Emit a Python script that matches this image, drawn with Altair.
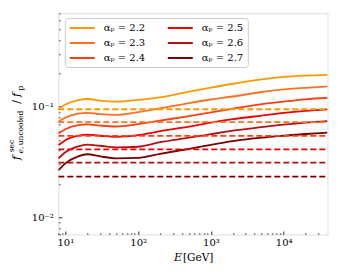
import altair as alt
import pandas as pd

# ---------------- data ----------------
alphas = ["2.2", "2.3", "2.4", "2.5", "2.6", "2.7"]
colors = ["#ff9900", "#ff7020", "#ff4010", "#ee0000", "#b81010", "#780000"]

energy = [8, 10, 15, 20, 30, 50, 100, 200, 500, 1000, 2000, 5000, 10000, 20000, 40000]
f_22 = [0.0947, 0.1047, 0.115, 0.1175, 0.1138, 0.1115, 0.1155, 0.1218, 0.137, 0.149, 0.1615, 0.177, 0.186, 0.191, 0.194]
f_23 = [0.0731, 0.0798, 0.0867, 0.0882, 0.0858, 0.0845, 0.0895, 0.0967, 0.108, 0.1163, 0.1238, 0.136, 0.1434, 0.1485, 0.1526]
f_24 = [0.0573, 0.0627, 0.0682, 0.0692, 0.0675, 0.0663, 0.0696, 0.0749, 0.0823, 0.0889, 0.0963, 0.1058, 0.1115, 0.1168, 0.1207]
f_25 = [0.0449, 0.0498, 0.0547, 0.0561, 0.0547, 0.0534, 0.0553, 0.0601, 0.0661, 0.0719, 0.0773, 0.0832, 0.088, 0.0918, 0.0947]
f_26 = [0.034, 0.0388, 0.0439, 0.0455, 0.0444, 0.043, 0.0435, 0.0478, 0.0525, 0.0565, 0.0608, 0.0654, 0.0689, 0.0719, 0.0741]
f_27 = [0.0266, 0.0308, 0.0356, 0.0372, 0.0356, 0.0342, 0.0345, 0.0375, 0.0417, 0.0453, 0.0488, 0.0525, 0.0547, 0.0567, 0.0583]
solid_series = [f_22, f_23, f_24, f_25, f_26, f_27]

dashed_levels = [0.095, 0.0726, 0.0545, 0.0412, 0.0312, 0.0234]

x_domain = [8, 40000]
y_domain = [0.007, 0.7]

x_major = [10, 100, 1000, 10000]
x_major_labels = ["10¹", "10²", "10³", "10⁴"]
x_minor = [8, 9, 20, 30, 40, 50, 60, 70, 80, 90, 200, 300, 400, 500, 600, 700, 800, 900,
           2000, 3000, 4000, 5000, 6000, 7000, 8000, 9000, 20000, 30000]
y_major = [0.01, 0.1]
y_major_labels = ["10⁻²", "10⁻¹"]
y_minor = [0.007, 0.008, 0.009, 0.02, 0.03, 0.04, 0.05, 0.06, 0.07, 0.08, 0.09,
           0.2, 0.3, 0.4, 0.5, 0.6, 0.7]

legend_labels = ["αₚ = " + a for a in alphas]

# ---------------- tables ----------------
solid_rows = []
for lab, series in zip(legend_labels, solid_series):
    for e, f in zip(energy, series):
        solid_rows.append({"E": e, "f": f, "alpha": lab})
solid_df = pd.DataFrame(solid_rows)

dashed_rows = []
for lab, lev in zip(legend_labels, dashed_levels):
    for e in x_domain:
        dashed_rows.append({"E": e, "f": lev, "alpha": lab})
dashed_df = pd.DataFrame(dashed_rows)


def label_expr(vals, labels):
    expr = "''"
    for v, l in reversed(list(zip(vals, labels))):
        expr = f"abs(datum.value - {v}) < {v}*1e-6 ? '{l}' : " + expr
    return expr


FONT = "DejaVu Serif"
W, H = 269.2, 221.2

xscale = alt.Scale(type="log", domain=x_domain, nice=False)
yscale = alt.Scale(type="log", domain=y_domain, nice=False)

x_axis_major = alt.Axis(orient="bottom", values=x_major, labelExpr=label_expr(x_major, x_major_labels),
                        tickSize=3.5, offset=-3.5, domain=False, grid=False, labelPadding=3,
                        labelFont=FONT, labelFontSize=10, labelColor="black", tickColor="black",
                        tickWidth=0.8, title=None, labelFlush=False, labelOverlap=False)
y_axis_major = alt.Axis(orient="left", values=y_major, labelExpr=label_expr(y_major, y_major_labels),
                        tickSize=3.5, offset=-3.5, domain=False, grid=False, labelPadding=5,
                        labelFont=FONT, labelFontSize=10, labelColor="black", tickColor="black",
                        tickWidth=0.8, title=None, labelFlush=False, labelOverlap=False)
x_axis_minor = alt.Axis(orient="bottom", values=x_minor, labels=False, tickSize=2, offset=-2,
                        domain=False, grid=False, tickColor="black", tickWidth=0.6, title=None)
y_axis_minor = alt.Axis(orient="left", values=y_minor, labels=False, tickSize=2, offset=-2,
                        domain=False, grid=False, tickColor="black", tickWidth=0.6, title=None)

color_scale = alt.Scale(domain=legend_labels, range=colors)

solid = alt.Chart(solid_df).mark_line(interpolate="monotone", strokeWidth=1.8, clip=True).encode(
    x=alt.X("E:Q", scale=xscale, axis=x_axis_major),
    y=alt.Y("f:Q", scale=yscale, axis=y_axis_major),
    color=alt.Color("alpha:N", scale=color_scale, legend=alt.Legend(
        orient="none", legendX=6.5, legendY=4.7, columns=2, title=None,
        symbolType="M-1,0H4", symbolSize=100, symbolStrokeWidth=2,
        labelFont=FONT, labelFontSize=10, labelColor="black", labelOffset=23,
        padding=4, rowPadding=4, columnPadding=18,
        strokeColor="#cccccc", fillColor="white", cornerRadius=3)),
    detail="alpha:N",
)

dashed = alt.Chart(dashed_df).mark_line(strokeWidth=1.8, strokeDash=[6, 3], clip=True).encode(
    x=alt.X("E:Q", scale=xscale, axis=x_axis_minor),
    y=alt.Y("f:Q", scale=yscale, axis=y_axis_minor),
    color=alt.Color("alpha:N", scale=color_scale, legend=None),
    detail="alpha:N",
)

one = pd.DataFrame({"k": [0]})


def txt(s, x, y, size=10, style="normal", angle=0, align="center", baseline="middle"):
    return alt.Chart(one).mark_text(text=s, font=FONT, fontSize=size, fontStyle=style, angle=angle,
                                    align=align, baseline=baseline, color="black").encode(
        x=alt.value(x), y=alt.value(y))


ox, oy = 58.3, 13.3  # plot origin on page
titles = [
    txt("E", 178 - ox, 258 - oy, size=11, style="italic"),
    txt("[GeV]", 183 - ox, 258 - oy, size=10.5, align="left"),
    txt("f", 20 - ox, 158 - oy, size=11, style="italic", angle=270, baseline="alphabetic"),
    txt("sec", 13.5 - ox, 146 - oy, size=7.5, angle=270, baseline="alphabetic"),
    txt("e,", 22.5 - ox, 150 - oy, size=7.5, style="italic", angle=270, baseline="alphabetic"),
    txt("uncooled", 22.5 - ox, 128 - oy, size=7.5, angle=270, baseline="alphabetic"),
    txt("/", 20 - ox, 102 - oy, size=11, angle=270, baseline="alphabetic"),
    txt("f", 20 - ox, 95 - oy, size=11, style="italic", angle=270, baseline="alphabetic"),
    txt("p", 22.5 - ox, 88 - oy, size=7.5, angle=270, baseline="alphabetic"),
]

chart = alt.layer(solid, dashed, *titles).resolve_axis(x="independent", y="independent").properties(
    width=W, height=H,
    autosize=alt.AutoSizeParams(type="none"),
    padding={"left": 50.3, "top": 5.3, "right": 8, "bottom": 33},
).configure_view(stroke="black", strokeWidth=1).configure(background="white")

chart.save("out.html", embed_options={"renderer": "svg", "actions": False})
